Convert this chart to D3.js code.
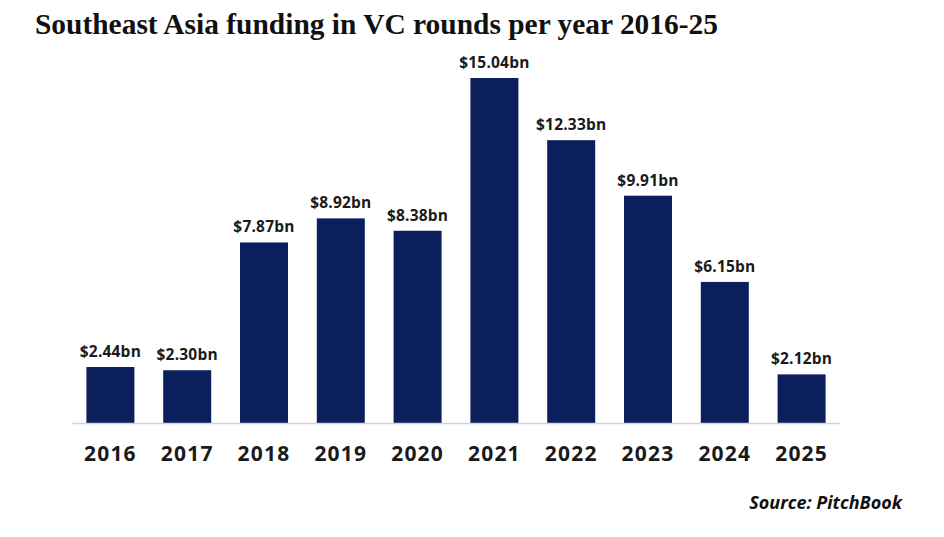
<!DOCTYPE html>
<html>
<head>
<meta charset="utf-8">
<script src="https://cdn.jsdelivr.net/npm/d3@7"></script>
<style>
  body { margin: 0; background: #fff; }
</style>
</head>
<body>
<div class="grafico"></div>
<script>
/*Datos*/
const years = ['2016', '2017', '2018', '2019', '2020', '2021', '2022', '2023', '2024', '2025'];
const funding = [2.44, 2.30, 7.87, 8.92, 8.38, 15.04, 12.33, 9.91, 6.15, 2.12];
const labels = ['$2.44bn', '$2.30bn', '$7.87bn', '$8.92bn', '$8.38bn', '$15.04bn', '$12.33bn', '$9.91bn', '$6.15bn', '$2.12bn'];

const w = 944;
const h = 537;
const baseY = 423;

const svg = d3.select('.grafico')
  .append('svg')
  .attr('width', w)
  .attr('height', h)

/*Título*/
svg.append('text')
  .attr('x', 35)
  .attr('y', 34)
  .attr('textLength', 683)
  .attr('lengthAdjust', 'spacingAndGlyphs')
  .style('font-family', '"Liberation Serif", serif')
  .style('font-weight', 'bold')
  .style('font-size', '30px')
  .style('fill', '#111')
  .text('Southeast Asia funding in VC rounds per year 2016-25')

/*Escalas*/
const xScale = d3.scaleBand()
  .domain(years)
  .range([72, 840])
  .paddingInner(0.375)
  .paddingOuter(0.1875)

const yScale = d3.scaleLinear()
  .domain([0, 15.04])
  .range([baseY, 78])

/*Barras*/
svg.selectAll('rect.bar')
  .data(funding)
  .enter()
  .append('rect')
  .attr('class', 'bar')
  .attr('x', (d, i) => xScale(years[i]))
  .attr('y', d => yScale(d))
  .attr('width', xScale.bandwidth())
  .attr('height', d => baseY - yScale(d))
  .attr('fill', '#0a1f5c')

/*Etiquetas de valor*/
svg.selectAll('text.val')
  .data(funding)
  .enter()
  .append('text')
  .attr('class', 'val')
  .attr('x', (d, i) => xScale(years[i]) + xScale.bandwidth() / 2)
  .attr('y', d => yScale(d) - 10)
  .attr('text-anchor', 'middle')
  .style('font-family', '"Open Sans", sans-serif')
  .style('font-weight', 'bold')
  .style('font-size', '15.5px')
  .style('letter-spacing', '0.2px')
  .style('fill', '#1a1a1a')
  .text((d, i) => labels[i])

/*Eje x*/
const xAxis = d3.axisBottom(xScale).tickSize(0).tickPadding(0)
const gx = svg.append('g')
  .attr('id', 'x-axis')
  .attr('transform', `translate(0,${baseY})`)
  .call(xAxis)
gx.select('.domain').attr('stroke', '#d4d4d4').attr('stroke-width', 1.5)
gx.selectAll('text')
  .attr('dy', 0)
  .attr('y', 38)
  .style('font-family', '"Open Sans", sans-serif')
  .style('font-weight', 'bold')
  .style('font-size', '21px')
  .style('letter-spacing', '1.2px')
  .style('fill', '#1a1a1a')

/*Fuente*/
svg.append('text')
  .attr('x', 902)
  .attr('y', 509)
  .attr('text-anchor', 'end')
  .style('font-family', '"Open Sans", sans-serif')
  .style('font-weight', 'bold')
  .style('font-style', 'italic')
  .style('font-size', '18px')
  .style('fill', '#111')
  .text('Source: PitchBook')
</script>
</body>
</html>
